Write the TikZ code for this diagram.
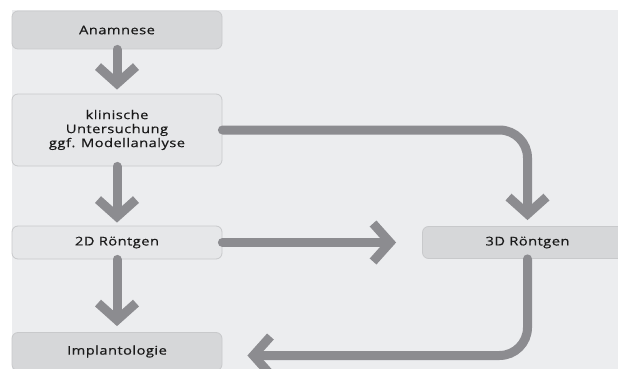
\documentclass[tikz,border=0pt]{standalone}
\usepackage{fontspec}
\setmainfont[FakeStretch=1.22,LetterSpace=4,FakeBold=0.5]{Open Sans}
\usetikzlibrary{arrows.meta}
\definecolor{bgcol}{HTML}{ECEDEF}
\definecolor{lightfill}{HTML}{E6E7E9}
\definecolor{darkfill}{HTML}{D6D7D9}
\definecolor{edgecol}{HTML}{C8C9CB}
\definecolor{arrowcol}{HTML}{8C8C90}
\definecolor{txtcol}{HTML}{1A1A1A}
\tikzset{
  box/.style={draw=edgecol, line width=0.8pt, rounded corners=6pt, minimum width=210pt,
    inner sep=0pt, align=center, text=txtcol, font=\fontsize{12}{14}\selectfont},
  lightbox/.style={box, fill=lightfill},
  darkbox/.style={box, fill=darkfill},
  conn/.style={draw=arrowcol, line width=9pt, line cap=round, rounded corners=28pt,
    -{Straight Barb[sharp, length=17pt, width=38pt]}}
}
\begin{document}
\begin{tikzpicture}[x=1pt, y=-1pt]
\useasboundingbox (0,0) rectangle (618,369);
\clip (0,0) rectangle (618,369);
\fill[white] (0,0) rectangle (618,369);
\fill[bgcol] (12,10) rectangle (618,369);
\node[darkbox, minimum height=38pt] (anam) at (117,30) {Anamnese};
\node[lightbox, minimum height=72pt] (klin) at (117,130) {klinische\\Untersuchung\\ggf. Modellanalyse};
\node[lightbox, minimum height=33pt] (r2d) at (117,242.5) {2D Röntgen};
\node[darkbox, minimum height=32pt] (r3d) at (527.5,242.5) {3D Röntgen};
\node[darkbox, minimum height=38pt] (impl) at (117,351.5) {Implantologie};
\draw[conn, shorten >=4pt] (anam) -- (klin);
\draw[conn, shorten >=3pt] (klin) -- (r2d);
\draw[conn, shorten >=6pt] (r2d) -- (impl);
\draw[conn, shorten >=26pt] (r2d) -- (r3d);
\draw[conn, shorten >=6pt] (klin.east) -| (r3d.north);
\draw[conn, shorten >=25pt] (r3d.south) |- ([yshift=-4pt]impl.east);
\end{tikzpicture}
\end{document}
